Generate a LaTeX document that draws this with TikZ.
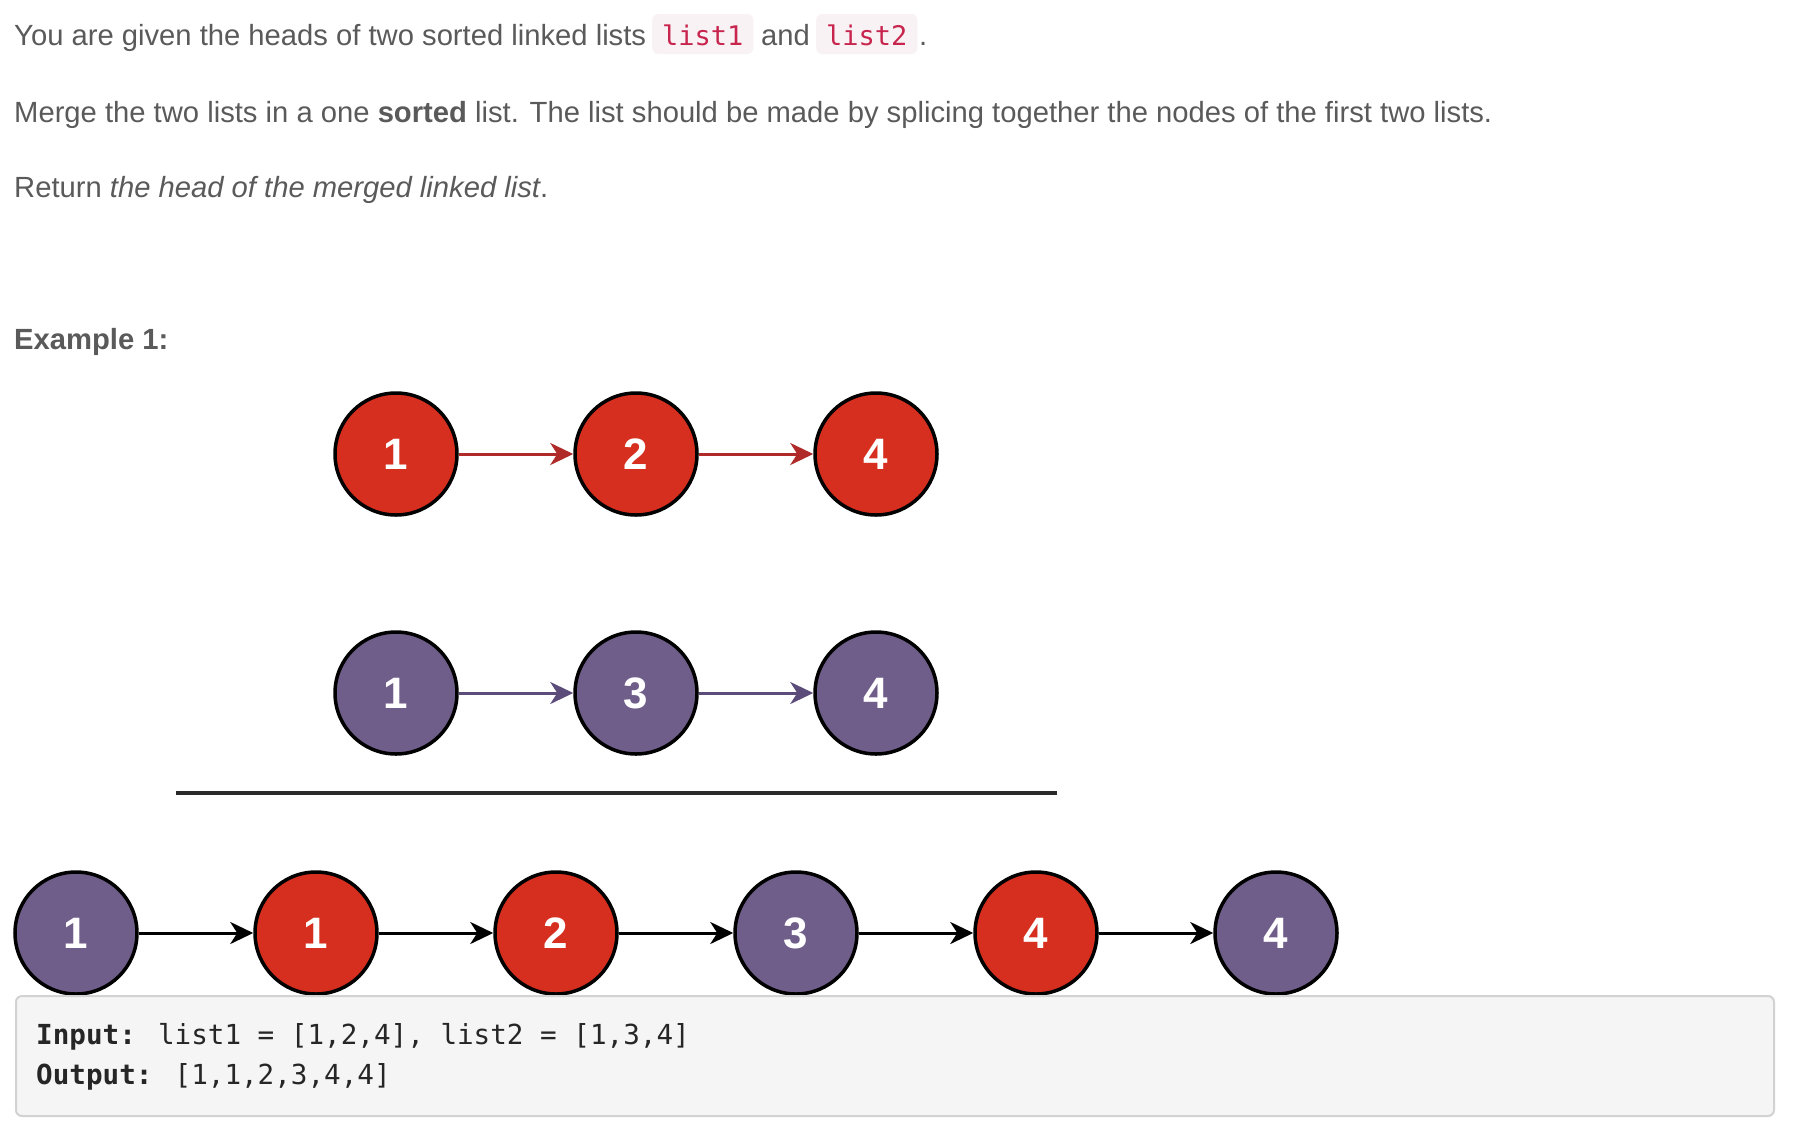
\documentclass[tikz,border=0pt]{standalone}
\usepackage{fontspec}
\setmainfont{Liberation Sans}
\newfontfamily\codefont{DejaVu Sans Mono}
\usetikzlibrary{arrows.meta}
\definecolor{txtgray}{HTML}{5A5A5A}
\definecolor{codered}{HTML}{C7254E}
\definecolor{codebg}{HTML}{F9F2F4}
\definecolor{nodered}{HTML}{D62F1F}
\definecolor{nodepurple}{HTML}{705E8A}
\definecolor{arrred}{HTML}{B02A2A}
\definecolor{arrpurple}{HTML}{5C4C7A}
\definecolor{boxfill}{HTML}{F5F5F5}
\definecolor{boxborder}{HTML}{D2D2D2}
\definecolor{codetext}{HTML}{262626}
\definecolor{rulecol}{HTML}{2A2A2A}
\begin{document}
\begin{tikzpicture}[x=1pt,y=-1pt,
  txt/.style={inner sep=0pt, text=txtgray, font=\fontsize{29.2}{34}\selectfont},
  inl/.style={inner xsep=10pt, inner ysep=0pt, text height=31pt, text depth=9pt,
    fill=codebg, rounded corners=6pt, text=codered, font=\codefont\fontsize{27}{32}\selectfont},
  lnode/.style={circle, draw=black, line width=3.5pt, minimum size=122pt, inner sep=0pt,
    text=white, font=\bfseries\fontsize{44}{44}\selectfont},
  rednode/.style={lnode, fill=nodered},
  purnode/.style={lnode, fill=nodepurple},
  arr/.style={line width=3pt, -{Stealth[length=23pt, width=22pt, inset=7pt]}},
  codetxt/.style={inner sep=0pt, text=codetext, font=\codefont\fontsize{27.6}{34}\selectfont}
]
\useasboundingbox (0,0) rectangle (1802,1136);
\fill[white] (0,0) rectangle (1802,1136);

% description text
\node[txt, anchor=base west] (l1a) at (14,45) {You are given the heads of two sorted linked lists};
\node[inl, anchor=base west] (c1) at (652,45) {list1};
\node[txt, anchor=base west] (l1b) at (761,45) {and};
\node[inl, anchor=base west] (c2) at (816,45) {list2};
\node[txt, anchor=base west] (l1c) at (919,45) {.};
\node[txt, anchor=base west] (l2) at (14,122) {Merge the two lists in a one \textbf{sorted} list. The list should be made by splicing together the nodes of the first two lists.};
\node[txt, anchor=base west] (l3) at (14,197) {Return \textit{the head of the merged linked list}.};
\node[txt, anchor=base west] (ex) at (14,349) {\textbf{Example 1:}};

% list1
\node[rednode] (a1) at (396,454) {1};
\node[rednode] (a2) at (636,454) {2};
\node[rednode] (a3) at (876,454) {4};
\draw[arr, arrred] (a1) -- (a2);
\draw[arr, arrred] (a2) -- (a3);

% list2
\node[purnode] (b1) at (396,693) {1};
\node[purnode] (b2) at (636,693) {3};
\node[purnode] (b3) at (876,693) {4};
\draw[arr, arrpurple] (b1) -- (b2);
\draw[arr, arrpurple] (b2) -- (b3);

% rule
\coordinate (r1) at (176,793);
\coordinate (r2) at (1057,793);
\draw[line width=4pt, rulecol] (r1) -- (r2);

% merged
\node[purnode] (m1) at (76,933) {1};
\node[rednode] (m2) at (316,933) {1};
\node[rednode] (m3) at (556,933) {2};
\node[purnode] (m4) at (796,933) {3};
\node[rednode] (m5) at (1036,933) {4};
\node[purnode] (m6) at (1276,933) {4};
\draw[arr, black] (m1) -- (m2);
\draw[arr, black] (m2) -- (m3);
\draw[arr, black] (m3) -- (m4);
\draw[arr, black] (m4) -- (m5);
\draw[arr, black] (m5) -- (m6);

% code box
\node[draw=boxborder, fill=boxfill, rounded corners=6pt, line width=2pt,
  minimum width=1758pt, minimum height=120pt, anchor=north west, inner sep=0pt] (box) at (15,995) {};
\node[codetxt, anchor=base west] (inp) at (36,1044) {\textbf{Input:} list1 = [1,2,4], list2 = [1,3,4]};
\node[codetxt, anchor=base west] (outp) at (36,1084) {\textbf{Output:} [1,1,2,3,4,4]};
\end{tikzpicture}
\end{document}
